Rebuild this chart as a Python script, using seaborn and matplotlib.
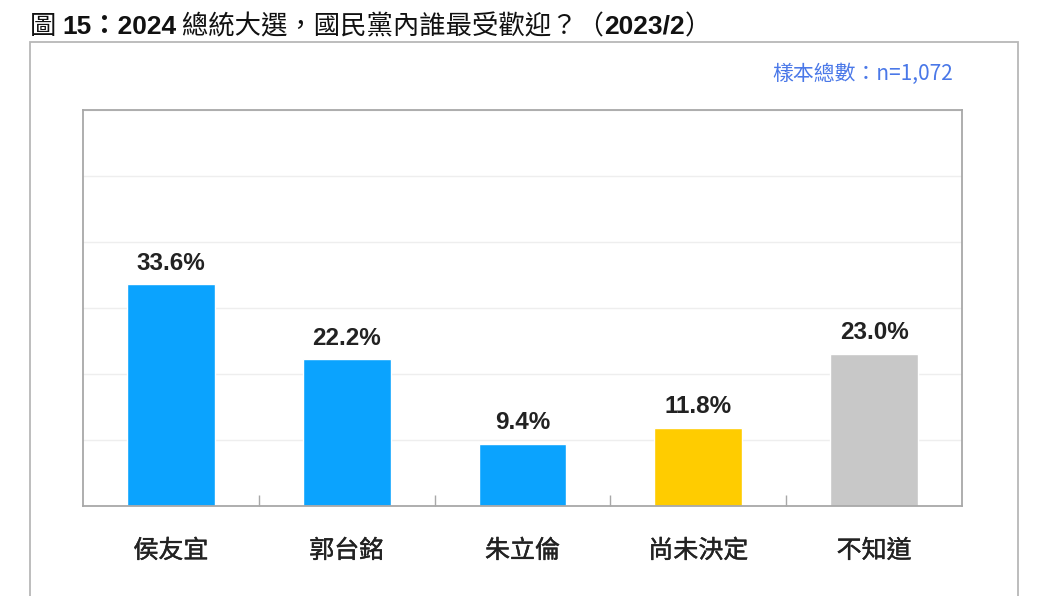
import matplotlib
matplotlib.use("Agg")
import matplotlib.pyplot as plt
import matplotlib.patheffects as pe
from matplotlib.patches import Rectangle
from matplotlib.ticker import FixedLocator
import seaborn as sns
import pandas as pd

candidates = ["侯友宜", "郭台銘", "朱立倫", "尚未決定", "不知道"]
shares = [33.6, 22.2, 9.4, 11.8, 23.0]
bar_colors = ["#0BA3FE", "#0BA3FE", "#0BA3FE", "#FFCC00", "#C8C8C8"]
sample_note = "樣本總數：n=1,072"

sns.set_theme(style="white")
plt.rcParams["font.family"] = ["Noto Sans CJK TC", "DejaVu Sans"]

df = pd.DataFrame({"candidate": candidates, "share": shares})

fig = plt.figure(figsize=(10.6, 5.96), dpi=100)
ax = fig.add_axes([83 / 1060, 1 - 506 / 596, (962 - 83) / 1060, (506 - 110) / 596])

sns.barplot(data=df, x="candidate", y="share", hue="candidate",
            palette=bar_colors, width=0.5, legend=False, ax=ax, saturation=1)

ax.set_ylim(0, 60)
ax.set_xlim(-0.5, 4.5)
ax.set_yticks(range(0, 61, 10))
ax.yaxis.grid(True, color="#EEEEEE", linewidth=1)
ax.set_axisbelow(True)
ax.tick_params(axis="y", left=False, labelleft=False)
ax.tick_params(axis="x", which="major", length=0, pad=23, labelsize=18,
               labelcolor="#222222")
# medium-ish weight: regular glyphs with a thin outline
for lbl in ax.get_xticklabels():
    lbl.set_path_effects([pe.withStroke(linewidth=0.3, foreground="#222222")])
ax.xaxis.set_minor_locator(FixedLocator([0.5, 1.5, 2.5, 3.5]))
ax.tick_params(axis="x", which="minor", direction="in", length=8,
               color="#A8A8A8", width=1, bottom=True)
ax.set_xlabel("")
ax.set_ylabel("")
for s in ax.spines.values():
    s.set_color("#A8A8A8")
    s.set_linewidth(1.3)

for cont in ax.containers:
    ax.bar_label(cont, fmt="%.1f%%", padding=7, fontsize=17.5,
                 fontweight="bold", color="#222222",
                 family=["Liberation Sans", "DejaVu Sans"])

# outer frame
fig.patches.append(Rectangle((30 / 1060, -0.05), (1018 - 30) / 1060,
                             1 - 42 / 596 + 0.05, transform=fig.transFigure,
                             fill=False, edgecolor="#B8B8B8", linewidth=1.3))

fig.text(953 / 1060, 1 - 74 / 596, sample_note, ha="right", va="center",
         fontsize=15, color="#4A78E8")

# title with mixed bold parts, laid out on one baseline
parts = [("圖 ", "normal"), ("15：2024", "bold"),
         (" 總統大選，國民黨內誰最受歡迎？（", "normal"),
         ("2023/2", "bold"), ("）", "normal")]
renderer = fig.canvas.get_renderer()
x_px = 30
for txt, w in parts:
    fam = ["Liberation Sans", "Noto Sans CJK TC"] if w == "bold" else ["Noto Sans CJK TC", "DejaVu Sans"]
    t = fig.text(x_px / 1060, 1 - 34 / 596, txt, ha="left", va="baseline",
                 fontsize=19, fontweight=w, color="#111111", family=fam)
    x_px += t.get_window_extent(renderer=renderer).width

fig.savefig("out.png", dpi=100)
